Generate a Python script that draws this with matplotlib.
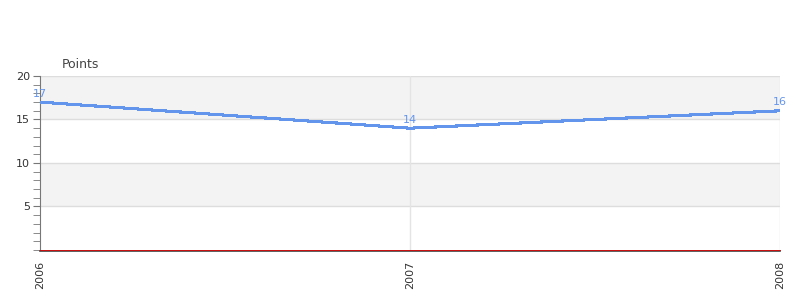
import matplotlib
matplotlib.use('Agg')
import matplotlib.pyplot as plt
from matplotlib.ticker import MultipleLocator

years = [2006, 2007, 2008]
points = [17, 14, 16]
year_labels = ['2006', '2007', '2008']

fig = plt.figure(figsize=(8, 3), dpi=100)
ax = fig.add_axes([0.05, 0.1667, 0.925, 0.58])

for s in ['top', 'right']:
    ax.spines[s].set_visible(False)
ax.spines['left'].set_color('#777777')
ax.spines['bottom'].set_color('#444444')
ax.spines['bottom'].set_linewidth(1.2)
ax.spines['bottom'].set_position(('outward', 1.0))

ax.set_xlim(2006, 2008)
ax.set_ylim(0, 20)

# alternating bands
for lo, hi in [(5, 10), (15, 20)]:
    ax.axhspan(lo, hi, color='#f3f3f3', zorder=0, lw=0)
for y in [5, 10, 15, 20]:
    ax.axhline(y, color='#dddddd', lw=1, zorder=1)
for x in [2007, 2008]:
    ax.axvline(x, color='#e4e4e4', lw=1, zorder=1)

ax.plot(years, points, color='#6495ed', lw=1.5, antialiased=False, zorder=3)
for x, y in zip(years, points):
    ax.text(x, y + 0.4, str(y), color='#6495ed', fontsize=8, ha='center', va='bottom', zorder=4)

ax.axhline(0, color='#dd0000', lw=0.6, zorder=5, clip_on=False)

ax.set_xticks(years)
ax.set_xticklabels(year_labels, rotation=90, fontsize=8, color='#333333')
ax.set_yticks([5, 10, 15, 20])
ax.set_yticklabels(['5', '10', '15', '20'], fontsize=8, color='#333333')
ax.yaxis.set_minor_locator(MultipleLocator(1))
ax.tick_params(axis='y', which='both', length=5, color='#777777', pad=2)
ax.tick_params(axis='x', length=0, pad=7)

fig.text(0.0775, 0.772, 'Points', fontsize=9, color='#444444')

fig.savefig('out.png', dpi=100)
